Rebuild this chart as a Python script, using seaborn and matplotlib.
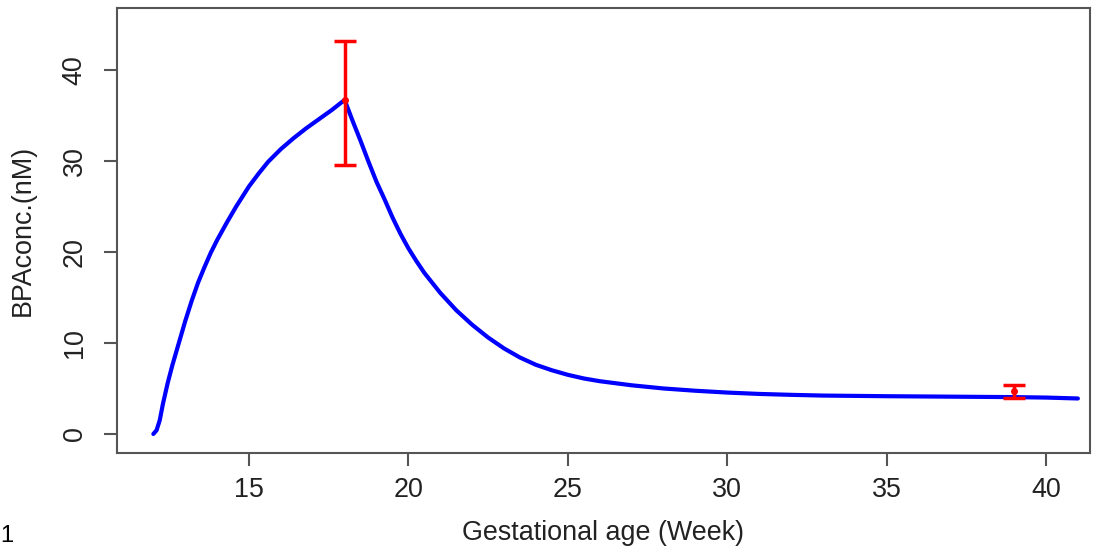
import numpy as np
import pandas as pd
import seaborn as sns
import matplotlib.pyplot as plt

# model curve
weeks = [12.0, 12.1, 12.2, 12.3, 12.45, 12.6, 12.8, 13.0, 13.2, 13.4, 13.6, 13.8,
         14.0, 14.3, 14.6, 15.0, 15.3, 15.6, 16.0, 16.4, 16.8, 17.2, 17.6, 18.0,
         18.25, 18.5, 18.75, 19.0, 19.25, 19.5, 19.75, 20.0, 20.25, 20.5, 20.75,
         21.0, 21.5, 22.0, 22.5, 23.0, 23.5, 24.0, 24.5, 25.0, 25.5, 26.0, 27.0,
         28.0, 29.0, 30.0, 31.0, 32.0, 33.0, 35.0, 37.0, 39.0, 40.0, 41.0]
conc = [0.0, 0.4, 1.5, 3.3, 5.6, 7.6, 10.0, 12.4, 14.6, 16.6, 18.3, 19.9,
        21.3, 23.2, 25.0, 27.2, 28.6, 29.9, 31.3, 32.5, 33.6, 34.6, 35.6, 36.7,
        34.4, 32.2, 29.9, 27.7, 25.8, 23.8, 22.0, 20.4, 19.0, 17.7, 16.6,
        15.5, 13.6, 12.0, 10.6, 9.4, 8.4, 7.6, 7.0, 6.5, 6.1, 5.8, 5.35,
        5.0, 4.75, 4.55, 4.4, 4.3, 4.22, 4.15, 4.1, 4.05, 4.0, 3.9]

# observed data with error bars
obs_week = [18, 39]
obs_mean = [36.7, 4.7]
obs_low = [29.5, 4.0]
obs_high = [43.2, 5.4]

sns.set_style('white')
plt.rcParams['font.family'] = ['Liberation Sans', 'DejaVu Sans']

text_col = '#222222'
axis_col = '#555555'
fsize = 19.4

fig = plt.figure(figsize=(11.05, 5.5), dpi=100)
ax = fig.add_axes([117 / 1105, 97 / 550, (1090 - 117) / 1105, (453 - 8) / 550])

df = pd.DataFrame({'week': weeks, 'conc': conc})
sns.lineplot(data=df, x='week', y='conc', ax=ax, color='#0000ff', lw=3,
             sort=False, estimator=None)

mean = np.array(obs_mean)
yerr = [mean - np.array(obs_low), np.array(obs_high) - mean]
ax.errorbar(obs_week, obs_mean, yerr=yerr, fmt='o', color='#ff0000', ms=4,
            elinewidth=2.5, capsize=8, capthick=2.5, zorder=3)

ax.set_xlim(10.86, 41.38)
ax.set_ylim(-2.09, 46.8)
ax.set_xticks([15, 20, 25, 30, 35, 40])
ax.set_yticks([0, 10, 20, 30, 40])

for s in ax.spines.values():
    s.set_visible(True)
    s.set_color(axis_col)
    s.set_linewidth(1.5)

ax.tick_params(axis='both', direction='out', length=9.5, width=1.5, color=axis_col,
               labelsize=fsize, labelcolor=text_col)
ax.tick_params(axis='x', bottom=True, pad=8)
ax.tick_params(axis='y', left=True, pad=11.5)
for lab in ax.get_yticklabels():
    lab.set_rotation(90)
    lab.set_va('center')

ax.set_xlabel('Gestational age (Week)', fontsize=fsize, color=text_col, labelpad=12)
ax.set_ylabel('BPAconc.(nM)', fontsize=fsize, color=text_col, labelpad=19)

fig.text(0.0, 0.005, '1', fontsize=17, color='#000000', ha='left', va='bottom')

fig.savefig('out.png', dpi=100)
